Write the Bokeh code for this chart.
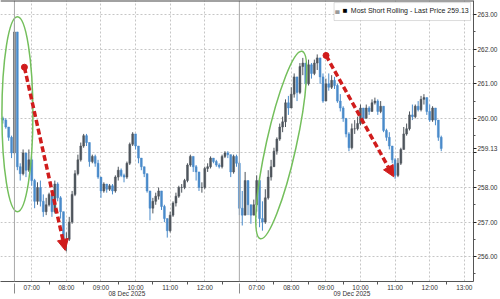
from bokeh.plotting import figure
from bokeh.models import (Range1d, FixedTicker, LinearAxis, Span, Label, Arrow,
                          NormalHead, BoxAnnotation, ColumnDataSource)
from bokeh.embed import file_html
from bokeh.resources import INLINE

FONT = "Liberation Sans"

# ---------------- data ----------------
series_name = "Most Short Rolling"
day_labels = ["08 Dec 2025", "09 Dec 2025"]
time_labels = [["07:00", "08:00", "09:00", "10:00", "11:00", "12:00"],
               ["07:00", "08:00", "09:00", "10:00", "11:00", "12:00", "13:00"]]
price_ticks = [256, 257, 258, 259, 260, 261, 262, 263]
price_minor = [255.5, 256.5, 257.5, 258.5, 259.5, 260.5, 261.5, 262.5, 263.5]

first_bar_time = ["06:10", "06:30"]   # first 5-minute bar of each day
bar_minutes = 5
first_open = 260.00

day1_close = [259.95, 259.75, 259.45, 259.00, 262.50, 258.60, 258.40, 259.00, 258.50, 258.80,
              258.20, 257.60, 258.00, 257.60, 257.30, 257.50, 257.80, 257.30, 258.10, 257.70,
              257.30, 256.50, 256.50, 257.00, 257.80, 258.40, 258.80, 259.20, 259.50, 259.30,
              258.75, 258.90, 258.70, 258.30, 257.90, 258.10, 257.95, 258.05, 257.90, 258.30,
              258.50, 258.35, 258.30, 258.70, 259.25, 259.55, 259.20, 258.85, 258.60, 258.40,
              257.90, 257.40, 257.60, 257.75, 257.90, 257.45, 257.10, 256.75, 257.20, 257.55,
              257.75, 258.00, 258.00, 258.20, 258.65, 258.90, 258.60, 258.45, 258.00, 258.00,
              258.55, 258.60, 258.85, 258.75, 258.65, 258.60, 258.90, 259.00, 258.95, 258.45,
              258.90, 258.70]
day1_high = [260.05, 260.00, 259.75, 259.50, 262.75, 262.50, 258.70, 259.10, 259.00, 259.10,
             258.90, 258.25, 258.15, 258.20, 257.80, 257.70, 257.85, 257.85, 258.20, 258.15,
             257.75, 257.30, 256.70, 257.15, 257.90, 258.50, 258.95, 259.30, 259.55, 259.55,
             259.30, 258.95, 258.95, 258.80, 258.30, 258.15, 258.10, 258.10, 258.10, 258.35,
             258.60, 258.55, 258.40, 258.75, 259.30, 259.60, 259.55, 259.20, 258.85, 258.60,
             258.40, 257.90, 257.70, 257.85, 258.00, 257.90, 257.50, 257.10, 257.30, 257.60,
             257.85, 258.05, 258.10, 258.25, 258.70, 258.95, 258.90, 258.65, 258.45, 258.15,
             258.60, 258.70, 258.90, 258.85, 258.80, 258.70, 258.95, 259.05, 259.05, 258.95,
             258.95, 258.95]
day1_low = [259.85, 259.70, 259.35, 258.85, 258.95, 258.50, 258.20, 258.35, 258.30, 258.45,
            258.05, 257.40, 257.50, 257.45, 257.15, 257.20, 257.45, 257.15, 257.25, 257.60,
            257.10, 256.35, 256.15, 256.45, 256.95, 257.75, 258.35, 258.75, 259.15, 259.20,
            258.60, 258.70, 258.60, 258.25, 257.70, 257.85, 257.85, 257.90, 257.80, 257.85,
            258.20, 258.30, 258.15, 258.25, 258.65, 259.20, 259.10, 258.70, 258.50, 258.30,
            257.85, 257.05, 257.25, 257.50, 257.65, 257.35, 257.00, 256.55, 256.70, 257.15,
            257.45, 257.70, 257.85, 257.95, 258.15, 258.60, 258.45, 258.20, 257.90, 257.85,
            257.95, 258.45, 258.55, 258.70, 258.60, 258.55, 258.55, 258.85, 258.85, 258.30,
            258.40, 258.60]

day2_close = [257.40, 257.20, 258.20, 257.50, 257.20, 257.50, 258.20, 257.10, 257.00, 257.70,
              258.30, 258.60, 259.05, 259.40, 259.75, 259.90, 260.45, 260.30, 260.70, 261.20,
              260.75, 261.50, 261.60, 261.00, 261.55, 261.30, 261.60, 261.75, 261.20, 260.50,
              261.00, 260.90, 261.10, 260.95, 260.50, 260.30, 260.00, 259.55, 259.15, 259.70,
              259.70, 259.85, 260.30, 260.00, 260.30, 260.20, 260.45, 260.50, 260.20, 260.35,
              259.65, 259.45, 259.20, 258.80, 258.35, 258.70, 259.10, 259.55, 259.70, 260.10,
              260.05, 260.35, 260.25, 260.55, 260.60, 260.20, 259.95, 260.30, 259.95, 259.45,
              259.13]
day2_high = [258.75, 257.90, 258.45, 258.10, 257.50, 257.65, 258.35, 258.10, 257.60, 257.95,
             258.50, 258.80, 259.15, 259.45, 259.85, 260.05, 260.55, 260.65, 260.90, 261.30,
             261.20, 261.60, 261.75, 261.60, 261.70, 261.60, 261.70, 261.85, 261.75, 261.30,
             261.15, 261.30, 261.25, 261.20, 261.00, 260.70, 260.35, 260.00, 259.60, 259.85,
             259.95, 260.05, 260.40, 260.30, 260.40, 260.35, 260.55, 260.60, 260.55, 260.50,
             260.35, 259.70, 259.60, 259.20, 258.85, 258.85, 259.15, 259.75, 259.85, 260.20,
             260.40, 260.40, 260.50, 260.65, 260.70, 260.60, 260.40, 260.35, 260.30, 259.95,
             259.50]
day2_low = [257.20, 256.90, 257.20, 257.20, 256.95, 257.20, 257.30, 256.85, 256.75, 256.95,
            257.65, 258.20, 258.60, 258.95, 259.35, 259.60, 259.75, 260.10, 260.30, 260.60,
            260.50, 260.70, 261.25, 260.95, 260.95, 261.15, 261.25, 261.40, 261.00, 260.45,
            260.50, 260.80, 260.85, 260.85, 260.45, 260.20, 259.90, 259.45, 259.05, 259.10,
            259.55, 259.65, 259.80, 259.85, 260.00, 260.10, 260.20, 260.40, 260.10, 260.15,
            259.60, 259.35, 259.10, 258.70, 258.25, 258.30, 258.65, 259.10, 259.50, 259.65,
            259.95, 260.00, 260.20, 260.20, 260.40, 260.10, 259.90, 259.90, 259.80, 259.35,
            259.05]

# ---------------- styling ----------------
UP = "#4e555c"
DOWN = "#4a8bca"
GRID = "#c6c6c6"
TXT = "#333333"
RED = "#d01c1c"
GREEN = "#74bf5c"

SESSION_OPEN_MIN = 6 * 60 + 30   # each day panel runs 06:30 - 13:00
SESSION_HOURS = 6.5


def to_min(s):
    hh, mm = s.split(":")
    return int(hh) * 60 + int(mm)


def sx(day, minutes):
    return day * SESSION_HOURS + (minutes - SESSION_OPEN_MIN) / 60.0


# build OHLC bars
xs, o, h, l, c, col = [], [], [], [], [], []
prev = first_open
for d, (cl, hi, lo) in enumerate([(day1_close, day1_high, day1_low),
                                  (day2_close, day2_high, day2_low)]):
    t0 = to_min(first_bar_time[d])
    for k in range(len(cl)):
        xs.append(sx(d, t0 + k * bar_minutes))
        o.append(prev)
        c.append(cl[k])
        h.append(max(hi[k], prev, cl[k]))
        l.append(min(lo[k], prev, cl[k]))
        col.append(UP if cl[k] >= prev else DOWN)
        prev = cl[k]

top = [max(a, b) for a, b in zip(o, c)]
bot = [min(a, b) for a, b in zip(o, c)]
src = ColumnDataSource(dict(x=xs, o=o, h=h, l=l, c=c, top=top, bot=bot, col=col))
last = day2_close[-1]

p = figure(width=500, height=299, output_backend="svg", toolbar_location=None,
           x_range=Range1d(-0.403, 13.266), y_range=Range1d(255.28, 263.41),
           y_axis_location="right")
p.min_border_left = 0
p.min_border_top = 0
p.min_border_bottom = 0
p.min_border_right = 0
p.outline_line_color = None
p.background_fill_color = "white"
p.border_fill_color = "white"

# tick positions
hour_pos, hour_lab, half_pos = [], [], []
for d, labs in enumerate(time_labels):
    for lab in labs:
        m = to_min(lab)
        hour_pos.append(sx(d, m))
        hour_lab.append(lab)
        if m < 13 * 60:
            half_pos.append(sx(d, m + 30))

# grids
p.xgrid.ticker = FixedTicker(ticks=hour_pos)
p.ygrid.ticker = FixedTicker(ticks=price_ticks)
for g in (p.xgrid[0], p.ygrid[0]):
    g.grid_line_color = GRID
    g.grid_line_dash = "2 2"
    g.grid_line_width = 1

# right price axis (last price gets its own tick)
ya = p.yaxis[0]
ya.ticker = FixedTicker(ticks=price_ticks + [last], minor_ticks=price_minor)
overrides = {t: f"{t:.2f}" for t in price_ticks}
overrides[259] = ""
overrides[last] = f"{last:.2f}"
ya.major_label_overrides = overrides
ya.major_label_text_font = FONT
ya.major_label_text_font_size = "6.5px"
ya.major_label_text_color = TXT
ya.major_tick_out = 3
ya.major_tick_in = 0
ya.minor_tick_out = 2
ya.minor_tick_in = 0
ya.major_label_standoff = 1
ya.axis_line_color = "#555555"
ya.major_tick_line_color = "#222222"
ya.minor_tick_line_color = "#555555"

# bottom time axis
xa = p.xaxis[0]
xa.ticker = FixedTicker(ticks=hour_pos, minor_ticks=half_pos)
xa.major_label_overrides = {pos: lab for pos, lab in zip(hour_pos, hour_lab)}
xa.major_label_text_font = FONT
xa.major_label_text_font_size = "6.5px"
xa.major_label_text_color = TXT
xa.major_tick_out = 0
xa.major_tick_in = 0
xa.minor_tick_out = 3
xa.minor_tick_in = 0
xa.major_label_standoff = -1
xa.axis_line_color = "#555555"
xa.minor_tick_line_color = "#555555"

# date axis
date_pos = [sx(d, SESSION_OPEN_MIN) + SESSION_HOURS / 2 for d in range(len(day_labels))]
sep_pos = [sx(d, SESSION_OPEN_MIN) for d in range(len(day_labels))]
da = LinearAxis(ticker=FixedTicker(ticks=date_pos, minor_ticks=sep_pos))
da.major_label_overrides = {pos: lab for pos, lab in zip(date_pos, day_labels)}
da.major_label_text_font = FONT
da.major_label_text_font_size = "6.5px"
da.major_label_text_color = TXT
da.axis_line_color = None
da.major_tick_line_color = None
da.major_tick_out = 0
da.major_tick_in = 0
da.minor_tick_line_color = "#8a8a8a"
da.minor_tick_in = 10
da.minor_tick_out = 0
da.major_label_standoff = -4
p.add_layout(da, "below")

# day separators
for s in sep_pos:
    p.add_layout(Span(location=s, dimension="height", line_color="#a8a8a8", line_width=1))
p.add_layout(Span(location=263.41, dimension="width", line_color="#444444", line_width=2))

# bars
p.segment(x0="x", y0="l", x1="x", y1="h", line_color="col", line_width=1, source=src)
p.vbar(x="x", top="top", bottom="bot", width=0.055, fill_color="col",
       line_color="col", line_width=0.5, source=src)

# annotations: ellipses
p.ellipse(x=[0.086], y=[260.12], width=31, height=195, width_units="screen",
          height_units="screen", fill_color=None, line_color=GREEN, line_width=1.5)
p.ellipse(x=[7.709], y=[259.23], width=192, height=30, width_units="screen",
          height_units="screen", angle=77.5, angle_units="deg",
          fill_color=None, line_color=GREEN, line_width=1.5)

# annotations: red dashed arrows
arrows = [((0.288, 261.48), (1.468, 256.18)), ((9.004, 261.82), (10.96, 258.31))]
for (x0, y0), (x1, y1) in arrows:
    p.add_layout(Arrow(x_start=x0, y_start=y0, x_end=x1, y_end=y1,
                       line_color=RED, line_width=3.5, line_dash="6 3",
                       end=NormalHead(size=11, fill_color=RED, line_color=RED, line_width=1)))
p.scatter(x=[a[0][0] for a in arrows], y=[a[0][1] for a in arrows], size=6,
          fill_color=RED, line_color=RED)

# legend box
p.add_layout(BoxAnnotation(left=9.237, right=13.18, top=263.35, bottom=262.83,
                           fill_color="white", fill_alpha=1.0, line_color="#8c8c8c",
                           line_width=1))
p.add_layout(Label(x=9.49, y=263.135, text="\u25a0", text_font_size="8px",
                   text_color="black", text_baseline="middle", text_font=FONT))
p.add_layout(Label(x=9.27, y=263.135, text="\u2584", text_font_size="6px",
                   text_color="#9a9a9a", text_baseline="middle", text_font=FONT))
p.add_layout(Label(x=9.72, y=263.135, text=f"{series_name} - Last Price {last:.2f}",
                   text_font_size="7px", text_color="#222222", text_baseline="middle",
                   text_font=FONT))

# last price tag, placed in screen units just right of the price axis line
p.add_layout(Label(x=476, y=last, x_units="screen", y_units="data", text=f"{last:.2f}",
                   text_font_size="6.5px", text_color="white", text_baseline="middle",
                   text_font=FONT, background_fill_color="#111111"))

open("out.html", "w").write(file_html(p, INLINE))
